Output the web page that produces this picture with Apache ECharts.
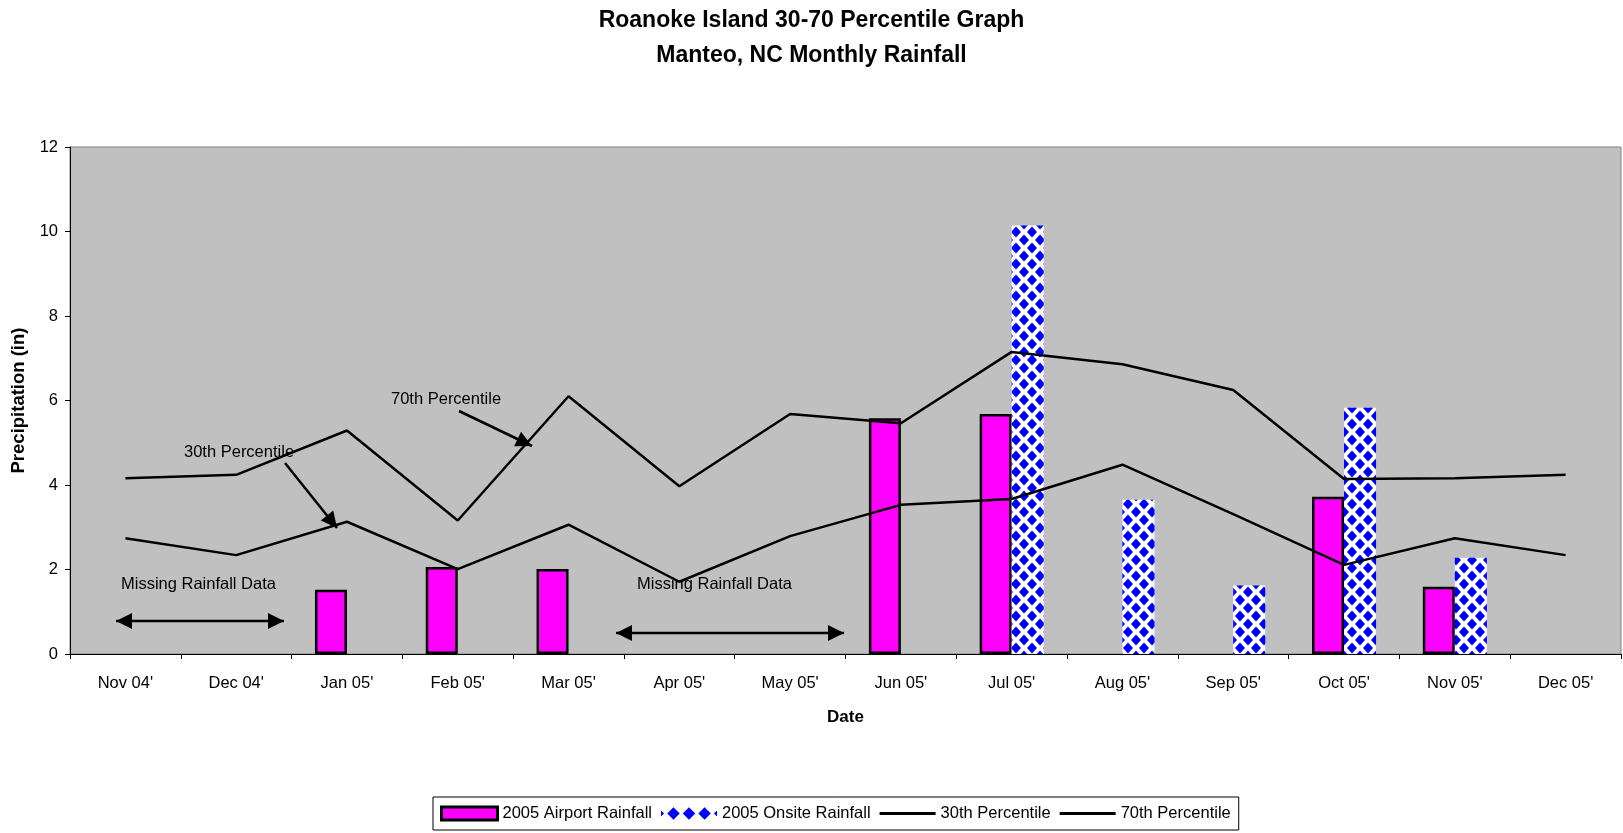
<!DOCTYPE html>
<html>
<head>
<meta charset="utf-8">
<title>Roanoke Island 30-70 Percentile Graph</title>
<script src="https://cdn.jsdelivr.net/npm/echarts@6/dist/echarts.min.js"></script>
<style>
  html, body { margin: 0; padding: 0; background: #fff; }
  #chart { width: 1623px; height: 833px; }
</style>
</head>
<body>
<div id="chart"></div>
<script>
// months on the x axis
var months = ["Nov 04'", "Dec 04'", "Jan 05'", "Feb 05'", "Mar 05'", "Apr 05'", "May 05'",
              "Jun 05'", "Jul 05'", "Aug 05'", "Sep 05'", "Oct 05'", "Nov 05'", "Dec 05'"];

// rainfall (in), null = no data
var airportRain = [null, null, 1.52, 2.06, 2.01, null, null, 5.58, 5.68, null, null, 3.72, 1.59, null];
var onsiteRain  = [null, null, null, null, null, null, null, null, 10.14, 3.65, 1.62, 5.83, 2.28, null];

// percentiles (in)
var pct30 = [2.74, 2.34, 3.13, 2.01, 3.06, 1.71, 2.79, 3.53, 3.67, 4.48, 3.31, 2.11, 2.74, 2.34];
var pct70 = [4.16, 4.24, 5.29, 3.16, 6.10, 3.97, 5.68, 5.46, 7.15, 6.86, 6.25, 4.14, 4.16, 4.24];

var yTicks = [0, 2, 4, 6, 8, 10, 12];

// blue diamond pattern for the onsite bars
function diamondTile() {
    var c = document.createElement('canvas');
    c.width = 16;
    c.height = 16;
    var g = c.getContext('2d');
    g.fillStyle = '#ffffff';
    g.fillRect(0, 0, 16, 16);
    g.fillStyle = '#0000ff';
    var centers = [[8, 8], [0, 0], [16, 0], [0, 16], [16, 16]];
    for (var i = 0; i < centers.length; i++) {
        var cx = centers[i][0], cy = centers[i][1];
        g.beginPath();
        g.moveTo(cx, cy - 5.5);
        g.lineTo(cx + 5, cy);
        g.lineTo(cx, cy + 5.5);
        g.lineTo(cx - 5, cy);
        g.closePath();
        g.fill();
    }
    return c;
}

// arrow = line + filled triangle head(s)
function arrow(x1, y1, x2, y2, both) {
    var out = [];
    out.push({
        type: 'line',
        shape: { x1: x1, y1: y1, x2: x2, y2: y2 },
        style: { stroke: '#000', lineWidth: 2.5 }
    });
    function head(tx, ty, fx, fy) {
        var a = Math.atan2(ty - fy, tx - fx);
        var len = 16, half = 8;
        var bx = tx - len * Math.cos(a), by = ty - len * Math.sin(a);
        return {
            type: 'polygon',
            shape: { points: [[tx, ty],
                [bx + half * Math.sin(a), by - half * Math.cos(a)],
                [bx - half * Math.sin(a), by + half * Math.cos(a)]] },
            style: { fill: '#000' }
        };
    }
    out.push(head(x2, y2, x1, y1));
    if (both) out.push(head(x1, y1, x2, y2));
    return out;
}

function note(x, y, txt) {
    return {
        type: 'text', x: x, y: y,
        style: { text: txt, fill: '#000', font: '16.5px "Liberation Sans", Arial, sans-serif',
                 verticalAlign: 'middle' }
    };
}

var chart = echarts.init(document.getElementById('chart'));
var font = '"Liberation Sans", Arial, sans-serif';

var shapes = [].concat(
    [note(391, 399, '70th Percentile'), note(184, 452, '30th Percentile'),
     note(121, 584, 'Missing Rainfall Data'), note(637, 584, 'Missing Rainfall Data')],
    arrow(459, 411, 532, 446, false),
    arrow(285, 463, 337, 528, false),
    arrow(116, 621, 284, 621, true),
    arrow(616, 633, 844, 633, true)
);

// legend icons
var lineIcon = 'path://M0,0 L56,0 L56,3 L0,3 Z';
var diamondIcon = 'path://M0,3 L3,6 L0,9 Z M12,0 L18,6 L12,12 L6,6 Z M27,0 L33,6 L27,12 L21,6 Z ' +
                  'M42,0 L48,6 L42,12 L36,6 Z M54,3 L51,6 L54,9 Z';

var option = {
    animation: false,
    backgroundColor: '#fff',
    textStyle: { fontFamily: font },
    title: {
        text: 'Roanoke Island 30-70 Percentile Graph\nManteo, NC Monthly Rainfall',
        left: 'center',
        top: -2,
        textStyle: { fontSize: 23, fontWeight: 'bold', color: '#000', lineHeight: 35, fontFamily: font }
    },
    grid: {
        left: 70, right: 2, top: 147, bottom: 179,
        outerBoundsMode: 'none',
        show: true,
        backgroundColor: '#c0c0c0',
        borderColor: '#808080',
        borderWidth: 1
    },
    legend: {
        left: 433, top: 797,
        padding: [8, 8, 8, 7],
        itemGap: 9,
        itemWidth: 56,
        itemHeight: 13,
        borderColor: '#000',
        borderWidth: 1,
        textStyle: { fontSize: 16.5, color: '#000', fontFamily: font },
        data: [
            { name: '2005 Airport Rainfall', icon: 'rect', itemStyle: { borderWidth: 3, borderColor: '#000' } },
            { name: '2005 Onsite Rainfall', icon: diamondIcon, itemStyle: { color: '#0000ff' } },
            { name: '30th Percentile', icon: lineIcon, itemStyle: { color: '#000' } },
            { name: '70th Percentile', icon: lineIcon, itemStyle: { color: '#000' } }
        ]
    },
    xAxis: {
        type: 'category',
        data: months,
        name: 'Date',
        nameLocation: 'middle',
        nameGap: 55,
        nameTextStyle: { fontSize: 17, fontWeight: 'bold', color: '#000' },
        axisLine: { lineStyle: { color: '#000', width: 1 } },
        axisTick: { show: true, length: 5, lineStyle: { color: '#000' } },
        axisLabel: { fontSize: 16.5, color: '#000', margin: 21 }
    },
    yAxis: {
        type: 'value',
        min: yTicks[0],
        max: yTicks[yTicks.length - 1],
        interval: 2,
        name: 'Precipitation (in)',
        nameLocation: 'middle',
        nameGap: 34,
        nameTextStyle: { fontSize: 18.5, fontWeight: 'bold', color: '#000' },
        splitLine: { show: false },
        axisLine: { show: true, lineStyle: { color: '#000', width: 1 } },
        axisTick: { show: true, length: 5, lineStyle: { color: '#000' } },
        axisLabel: { fontSize: 16.5, color: '#000', margin: 12 }
    },
    series: [
        {
            name: '2005 Airport Rainfall',
            type: 'bar',
            data: airportRain,
            barWidth: 32,
            barGap: '0%',
            itemStyle: { color: '#ff00ff', borderColor: '#000', borderWidth: 2.5 },
            z: 2
        },
        {
            name: '2005 Onsite Rainfall',
            type: 'bar',
            data: onsiteRain,
            barWidth: 32,
            barGap: '0%',
            itemStyle: { color: { image: diamondTile(), repeat: 'repeat' } },
            z: 2
        },
        {
            name: '30th Percentile',
            type: 'line',
            data: pct30,
            symbol: 'none',
            lineStyle: { color: '#000', width: 2.5 },
            itemStyle: { color: '#000' },
            z: 5
        },
        {
            name: '70th Percentile',
            type: 'line',
            data: pct70,
            symbol: 'none',
            lineStyle: { color: '#000', width: 2.5 },
            itemStyle: { color: '#000' },
            z: 5
        }
    ],
    graphic: { elements: shapes.map(function (s) { s.z = 100; return s; }) }
};

chart.setOption(option);
</script>
</body>
</html>
